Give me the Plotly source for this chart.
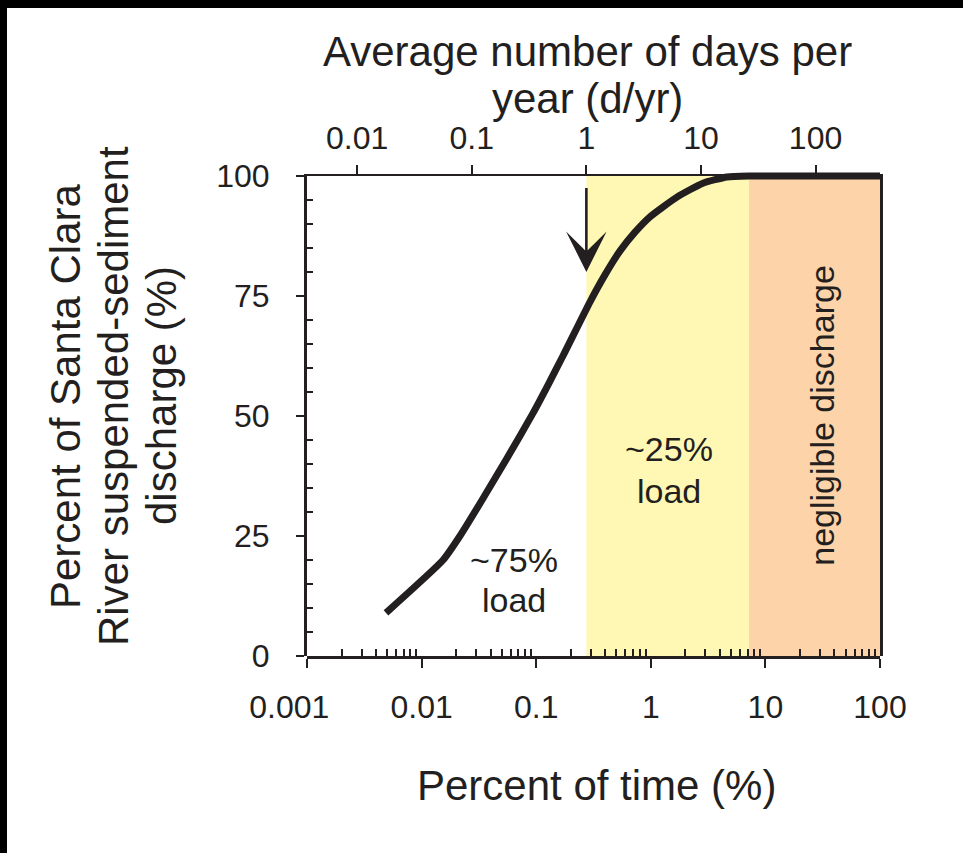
import math
import plotly.graph_objects as go

# ---------------- data ----------------
time_pct = [0.00489, 0.0154, 0.0216, 0.0337, 0.0556, 0.0938, 0.127, 0.171,
            0.295, 0.398, 0.539, 0.728, 0.984, 1.69, 2.85, 4.62, 7.2, 100]
discharge_pct = [9.0, 20.0, 25.0, 32.5, 41.2, 50.6, 56.5, 62.5,
                 73.8, 79.4, 84.4, 88.3, 91.5, 95.6, 98.5, 99.8, 100, 100]

zone_edges = [0.274, 7.2, 100]          # percent of time
zone_colors = ["#FFF8B4", "#FDD3AA"]

x_tickvals = [0.001, 0.01, 0.1, 1, 10, 100]
x_ticktext = ["0.001&nbsp;&nbsp;&nbsp;&nbsp;", "0.01", "0.1", "1", "10", "100"]
top_tickvals = [0.01, 0.1, 1, 10, 100]
top_ticktext = ["0.01", "0.1", "1", "10", "100"]
y_tickvals = [0, 25, 50, 75, 100]
y_ticktext = ["0", "25", "50", "75", "100"]

days_per_pct = 3.65          # 1 % of a year = 3.65 days
arrow_day = 1                # arrow at 1 d/yr
arrow_y = [80, 97.8]         # arrow tip / tail (% discharge)

# in-plot labels: one entry per text line
labels = [
    dict(text="~75%", x=0.064, y=20.0, angle=0),
    dict(text="load", x=0.064, y=11.7, angle=0),
    dict(text="~25%", x=1.44, y=43.1, angle=0),
    dict(text="load", x=1.44, y=34.4, angle=0),
    dict(text="negligible discharge", x=31.0, y=50.2, angle=-90),
]

INK = "#231F20"
FONT = "Liberation Sans, Arial, Helvetica, sans-serif"

x_range = [math.log10(x_tickvals[0]), math.log10(x_tickvals[-1])]
top_range = [math.log10(x_tickvals[0] * days_per_pct), math.log10(x_tickvals[-1] * days_per_pct)]
minor_x = [k * 10 ** d for d in range(-3, 2) for k in range(2, 10)]
minor_y = [v for v in range(0, 101, 5) if v % 25]

# layout geometry (pixels)
M_L, M_R, M_T, M_B = 307, 83, 166, 197
W = 963 - M_L - M_R
H = 853 - M_T - M_B
y_top = 480 / H


def px_x(p):
    return (p - M_L) / W


def px_y(p):
    return (853 - M_B - p) / H


fig = go.Figure()

# curve on an auxiliary (hidden) y axis with the same scale but a taller clip area
fig.add_trace(go.Scatter(
    x=time_pct, y=discharge_pct, mode="lines",
    line=dict(color=INK, width=7, shape="spline", smoothing=0.5),
    xaxis="x", yaxis="y3", showlegend=False, hoverinfo="skip",
))
# invisible trace so the top (days per year) axis is drawn
fig.add_trace(go.Scatter(
    x=[t * days_per_pct for t in time_pct], y=discharge_pct, mode="lines",
    line=dict(width=0, color="rgba(0,0,0,0)"),
    xaxis="x2", yaxis="y", showlegend=False, hoverinfo="skip",
))

shapes = []
for i, col in enumerate(zone_colors):
    shapes.append(dict(type="rect", xref="x", yref="y",
                       x0=zone_edges[i], x1=zone_edges[i + 1],
                       y0=y_tickvals[0], y1=y_tickvals[-1],
                       fillcolor=col, line=dict(width=0), layer="below"))
# black frame strips of the original image (top and left)
shapes.append(dict(type="rect", xref="paper", yref="paper",
                   x0=-1, x1=px_x(7), y0=-1, y1=2,
                   fillcolor="black", line=dict(width=0)))
shapes.append(dict(type="rect", xref="paper", yref="paper",
                   x0=-1, x1=2, y0=px_y(8), y1=2,
                   fillcolor="black", line=dict(width=0)))

annotations = []
for lab in labels:
    annotations.append(dict(text=lab["text"], x=math.log10(lab["x"]), y=lab["y"],
                            xref="x", yref="y", showarrow=False, textangle=lab["angle"],
                            font=dict(family=FONT, size=34, color=INK),
                            xanchor="center", yanchor="middle"))
arrow_x = math.log10(arrow_day / days_per_pct)
annotations.append(dict(x=arrow_x, y=arrow_y[0], ax=arrow_x, ay=arrow_y[1],
                        xref="x", yref="y", axref="x", ayref="y", text="",
                        showarrow=True, arrowhead=3, arrowsize=2.6, arrowwidth=2.6,
                        arrowcolor=INK))

TITLE_SIZE = 42
title_lines = [
    ("Average number of days per", 587, 51, 0),
    ("year (d/yr)", 587, 99, 0),
    ("Percent of time (%)", 596, 785, 0),
    ("Percent of Santa Clara", 65, 396, -90),
    ("River suspended-sediment", 113, 396, -90),
    ("discharge (%)", 161, 396, -90),
]
for txt, cx, cy, ang in title_lines:
    annotations.append(dict(text=txt, x=px_x(cx), y=px_y(cy), xref="paper", yref="paper",
                            showarrow=False, textangle=ang,
                            font=dict(family=FONT, size=TITLE_SIZE, color=INK),
                            xanchor="center", yanchor="middle"))

tickfont = dict(family=FONT, size=32, color=INK)

fig.update_layout(
    width=963, height=853,
    margin=dict(l=M_L, r=M_R, t=M_T, b=M_B),
    paper_bgcolor="white", plot_bgcolor="rgba(0,0,0,0)",
    showlegend=False,
    shapes=shapes, annotations=annotations,
    xaxis=dict(type="log", range=x_range, domain=[0, 1], anchor="y",
               showline=True, linewidth=3, linecolor=INK, showgrid=False, zeroline=False,
               ticks="outside", ticklen=9, tickwidth=2, tickcolor=INK,
               tickvals=x_tickvals, ticktext=x_ticktext, tickfont=tickfont,
               ticklabelstandoff=12,
               minor=dict(tickvals=minor_x, ticks="inside", ticklen=7,
                          tickwidth=1.5, tickcolor=INK, showgrid=False)),
    xaxis2=dict(type="log", range=top_range, overlaying="x", side="top", anchor="y",
                showline=True, linewidth=2, linecolor=INK, showgrid=False, zeroline=False,
                ticks="outside", ticklen=9, tickwidth=2, tickcolor=INK,
                tickvals=top_tickvals, ticktext=top_ticktext, tickfont=tickfont,
                ticklabelstandoff=3),
    yaxis=dict(range=[y_tickvals[0], y_tickvals[-1]], domain=[0, y_top], anchor="x",
               showline=True, linewidth=3, linecolor=INK, mirror=True,
               showgrid=False, zeroline=False,
               ticks="outside", ticklen=8, tickwidth=2, tickcolor=INK,
               tickvals=y_tickvals, ticktext=y_ticktext, tickfont=tickfont,
               ticklabelstandoff=20,
               minor=dict(tickvals=minor_y, ticks="inside", ticklen=6,
                          tickwidth=2, tickcolor=INK, showgrid=False)),
    yaxis3=dict(range=[y_tickvals[0], y_tickvals[-1] / y_top], domain=[0, 1], anchor="x",
                visible=False, showgrid=False, zeroline=False),
)

fig.write_html("out.html")
